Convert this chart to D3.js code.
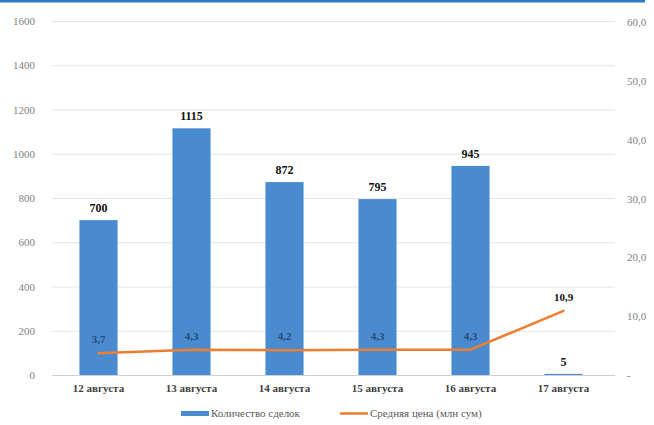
<!DOCTYPE html>
<html><head><meta charset="utf-8">
<script src="https://cdn.jsdelivr.net/npm/d3@7"></script>
<style>html,body{margin:0;padding:0;background:#fff;overflow:hidden;width:654px;height:425px}svg{display:block;position:absolute;left:0;top:0}svg text{font-family:"Liberation Serif","Times New Roman",serif !important}</style>
</head><body>
<svg id="c" width="654" height="425" viewBox="0 0 654 425"></svg>
<script>
const categories = ["12 августа","13 августа","14 августа","15 августа","16 августа","17 августа"];
const deals = [700,1115,872,795,945,5];
const price = [3.7,4.3,4.2,4.3,4.3,10.9];
const leftTicks = [0,200,400,600,800,1000,1200,1400,1600];
const rightTicks = [0,10,20,30,40,50,60];
const seriesNames = ["Количество сделок","Средняя цена (млн сум)"];

const svg = d3.select("#c");
const m = {l:52, r:610, t:21, b:375};
const x = d3.scaleBand().domain(categories).range([m.l, m.r]).paddingInner(0.59).paddingOuter(0.295);
const yL = d3.scaleLinear().domain([0,1600]).range([m.b, m.t]);
const yR = d3.scaleLinear().domain([0,60]).range([m.b, m.t+1]);

svg.append("rect").attr("x",0).attr("y",0).attr("width",645).attr("height",2.5).attr("fill","#2e7bc4");

// grid
svg.append("g").selectAll("line").data(leftTicks).join("line")
  .attr("x1",m.l).attr("x2",615).attr("y1",d=>yL(d)+0.5).attr("y2",d=>yL(d)+0.5)
  .attr("stroke",d=>d===0?"#cfcfcf":"#e4e4e4").attr("stroke-width",1);

// left axis
const gl = svg.append("g").attr("transform",`translate(${m.l-14},0)`)
  .call(d3.axisLeft(yL).tickValues(leftTicks).tickSize(0).tickFormat(d3.format("d")));
gl.select(".domain").remove();
gl.selectAll("text").attr("font-size",11).attr("fill","#7f7f7f");

// right axis
const gr = svg.append("g").attr("transform",`translate(624,0)`)
  .call(d3.axisRight(yR).tickValues(rightTicks).tickSize(0).tickFormat(d=>d===0?"-":d.toFixed(1).replace(".",",")));
gr.select(".domain").remove();
gr.selectAll("text").attr("font-size",11).attr("fill","#7f7f7f").attr("dx",0);

// bars
svg.append("g").selectAll("rect").data(deals).join("rect")
  .attr("x",(d,i)=>x(categories[i])).attr("width",x.bandwidth())
  .attr("y",d=>yL(d)).attr("height",d=>yL(0)-yL(d)).attr("fill","#4a8bd0");

// bar labels
svg.append("g").selectAll("text").data(deals).join("text")
  .attr("x",(d,i)=>x(categories[i])+x.bandwidth()/2).attr("y",d=>yL(d)-8)
  .attr("text-anchor","middle").attr("font-weight","bold")
  .attr("font-size",12).attr("fill","#111").text(d=>d);

// line
const cx = (i)=>x(categories[i])+x.bandwidth()/2;
svg.append("path").datum(price)
  .attr("d",d3.line().x((d,i)=>cx(i)).y(d=>yR(d)))
  .attr("fill","none").attr("stroke","#ed7d31").attr("stroke-width",2.5).attr("stroke-linecap","round");

// line labels
svg.append("g").selectAll("text").data(price).join("text")
  .attr("x",(d,i)=>cx(i)).attr("y",d=>yR(d)-10)
  .attr("text-anchor","middle").attr("font-weight","bold")
  .attr("font-size",11).attr("fill",(d,i)=>deals[i]>100?"#2a4a78":"#111")
  .text(d=>d.toFixed(1).replace(".",","));

// x labels
svg.append("g").selectAll("text").data(categories).join("text")
  .attr("x",(d,i)=>cx(i)).attr("y",392)
  .attr("text-anchor","middle").attr("font-weight","bold")
  .attr("font-size",11).attr("fill","#404040").text(d=>d);

// legend
const lg = svg.append("g").attr("font-size",11).attr("fill","#595959");
lg.append("rect").attr("x",181).attr("y",411).attr("width",28).attr("height",5).attr("fill","#4a8bd0");
lg.append("text").attr("x",211).attr("y",417).text(seriesNames[0]);
lg.append("line").attr("x1",340).attr("x2",368).attr("y1",413.5).attr("y2",413.5).attr("stroke","#ed7d31").attr("stroke-width",2.5);
lg.append("text").attr("x",370).attr("y",417).text(seriesNames[1]);
</script>
</body></html>
